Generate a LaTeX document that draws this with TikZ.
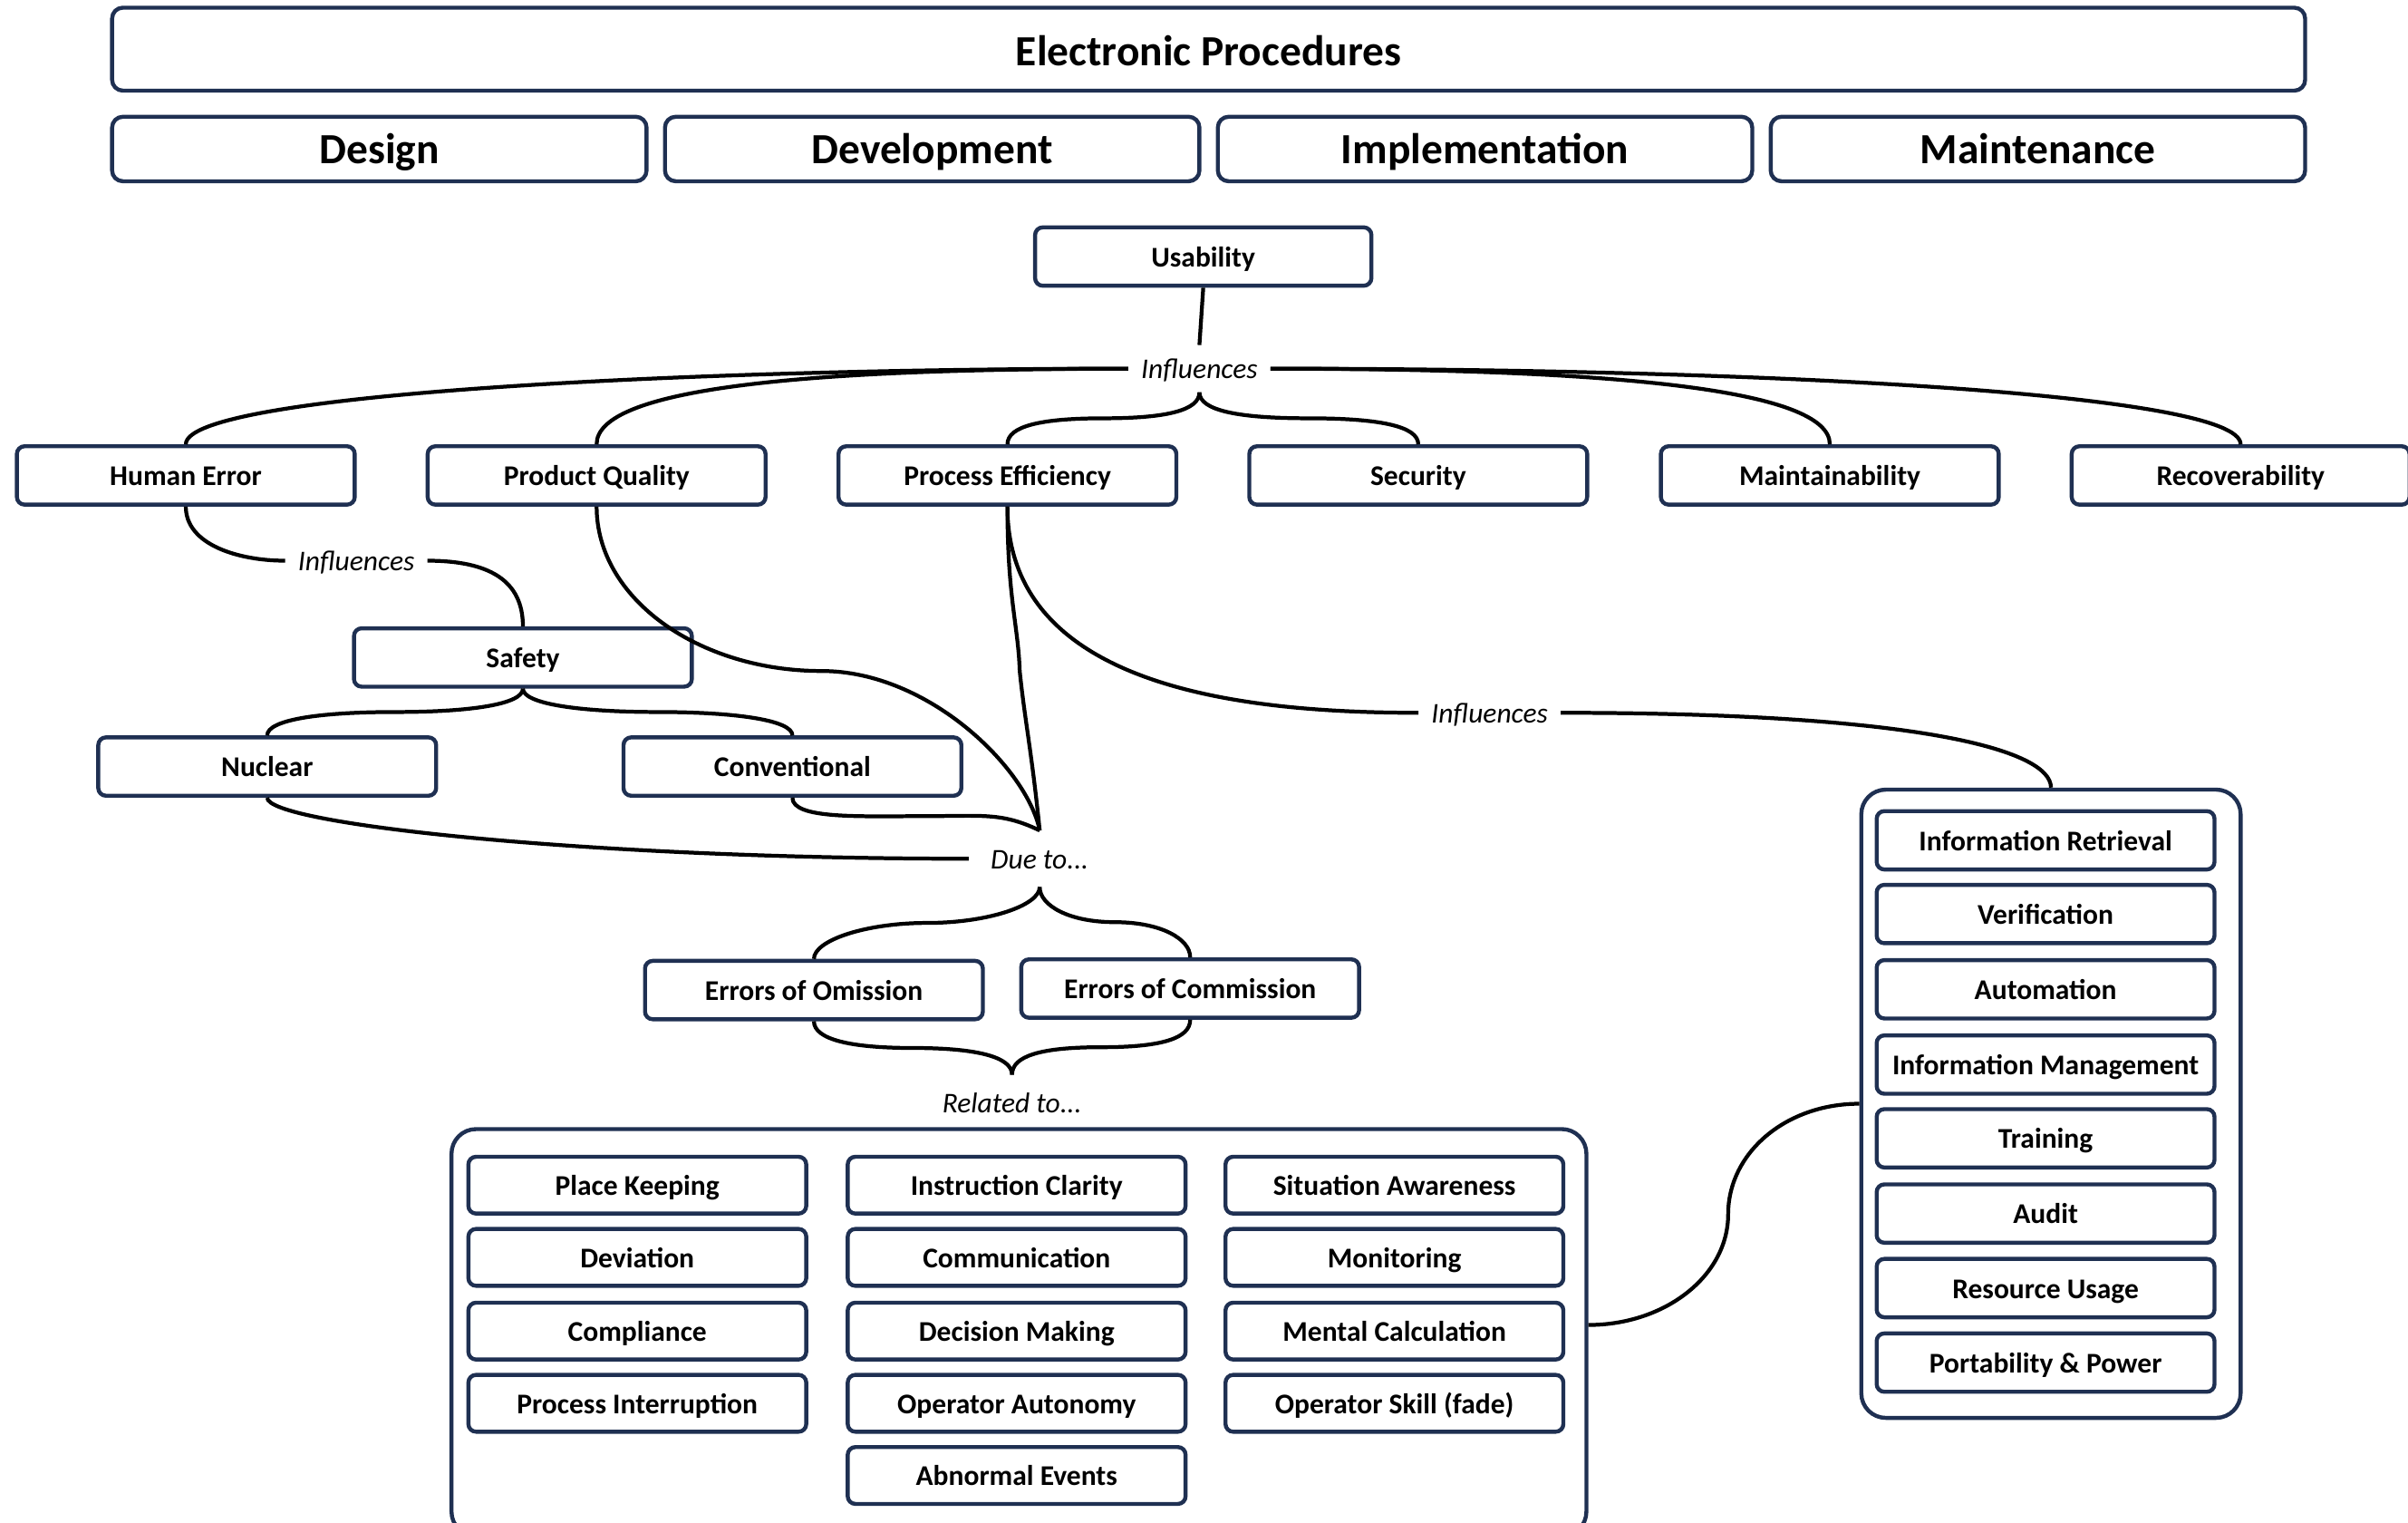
\documentclass[tikz,border=0pt]{standalone}
\usepackage{fontspec}
\setmainfont{Carlito}
\usetikzlibrary{calc}
\definecolor{navy}{RGB}{31,48,82}
\begin{document}
\begin{tikzpicture}[x=0.5pt,y=-0.5pt,
  box/.style={draw=navy, line width=1.3pt, rounded corners=2.5pt, fill=white, inner sep=0pt,
    font=\bfseries\fontsize{9.3}{11}\selectfont, text height=8.2pt, text depth=1.6pt,
    minimum width=110pt, minimum height=19pt},
  ibox/.style={box, minimum height=18.5pt},
  hbox/.style={box, font=\bfseries\fontsize{14}{16}\selectfont, text height=11.5pt, text depth=2pt,
    minimum height=21pt, minimum width=174pt, rounded corners=3.5pt},
  cont/.style={draw=navy, line width=1.3pt, rounded corners=8pt, inner sep=0pt},
  lab/.style={font=\itshape\fontsize{9.3}{11}\selectfont, inner xsep=4pt, inner ysep=0pt,
    text height=8.2pt, text depth=1.6pt, minimum height=15pt},
  conn/.style={line width=1.25pt, black}]

\path[use as bounding box, fill=white] (0,0) rectangle (1568,991);

% header
\node[hbox, minimum width=714pt, minimum height=27pt, text height=13pt] (ep) at (787,32) {Electronic Procedures};
\node[hbox] (design) at (247,97) {Design};
\node[hbox] (devel) at (607,97) {Development};
\node[hbox] (impl) at (967,97) {Implementation};
\node[hbox] (mtn) at (1327,97) {Maintenance};

% usability
\node[box, minimum width=109.5pt] (us) at (783.5,167) {Usability};
\node[lab] (inf1) at (781,240) {Influences};

% row of qualities
\node[box] (he) at (121,309.5) {Human Error};
\node[box] (pq) at (388.5,309.5) {Product Quality};
\node[box] (pe) at (656,309.5) {Process Efficiency};
\node[box] (sec) at (923.5,309.5) {Security};
\node[box] (maint) at (1191.5,309.5) {Maintainability};
\node[box] (rec) at (1459,309.5) {Recoverability};

% safety branch
\node[lab] (inf2) at (232,365) {Influences};
\node[box] (saf) at (340.5,428) {Safety};
\node[box] (nuc) at (174,499) {Nuclear};
\node[box] (conv) at (516,499) {Conventional};

\node[lab, minimum height=18pt] (due) at (677,559) {Due to...};
\node[box] (eoo) at (530,644.5) {Errors of Omission};
\node[box] (eoc) at (775,643.5) {Errors of Commission};
\node[lab, minimum height=18pt] (rel) at (659,718) {Related to...};

\node[lab] (inf3) at (970,464) {Influences};

% containers
\node[cont, minimum width=369.5pt, minimum height=132.5pt] (c1) at (663.5,867.5) {};
\node[cont, minimum width=123.5pt, minimum height=204.5pt] (c2) at (1335.5,718.5) {};

% container 1 items
\node[ibox] (pk) at (415,771.5) {Place Keeping};
\node[ibox] (dev) at (415,818.5) {Deviation};
\node[ibox] (comp) at (415,866.5) {Compliance};
\node[ibox] (pint) at (415,913.5) {Process Interruption};
\node[ibox] (ic) at (662,771.5) {Instruction Clarity};
\node[ibox] (com) at (662,818.5) {Communication};
\node[ibox] (dm) at (662,866.5) {Decision Making};
\node[ibox] (oa) at (662,913.5) {Operator Autonomy};
\node[ibox] (ae) at (662,960.5) {Abnormal Events};
\node[ibox] (sa) at (908,771.5) {Situation Awareness};
\node[ibox] (mon) at (908,818.5) {Monitoring};
\node[ibox] (mc) at (908,866.5) {Mental Calculation};
\node[ibox] (os) at (908,913.5) {Operator Skill (fade)};

% container 2 items
\node[box] (ir) at (1332,547) {Information Retrieval};
\node[box] (ver) at (1332,595) {Verification};
\node[box] (aut) at (1332,644) {Automation};
\node[box] (im) at (1332,693) {Information Management};
\node[box] (tr) at (1332,741) {Training};
\node[box] (aud) at (1332,790) {Audit};
\node[box] (ru) at (1332,838.5) {Resource Usage};
\node[box] (pp) at (1332,887) {Portability \& Power};

% connectors: top
\draw[conn] (us.south) -- (inf1.north);
\draw[conn] (inf1.west) .. controls +(-285,0) and +(0,-33) .. (he.north);
\draw[conn] (inf1.west) .. controls +(-215,0) and +(0,-36) .. (pq.north);
\draw[conn] (inf1.east) .. controls +(222,0) and +(0,-36) .. (maint.north);
\draw[conn] (inf1.east) .. controls +(322,0) and +(0,-33) .. (rec.north);
\draw[conn] (inf1.south) .. controls +(0,12) and +(40,0) .. ($(inf1.south)!.5!(pe.north)$)
  .. controls +(-40,0) and +(0,-12) .. (pe.north);
\draw[conn] (inf1.south) .. controls +(0,12) and +(-45,0) .. ($(inf1.south)!.5!(sec.north)$)
  .. controls +(45,0) and +(0,-12) .. (sec.north);

% human error -> safety
\draw[conn] (he.south) .. controls +(0,25) and +(-30,0) .. (inf2.west);
\draw[conn] (inf2.east) .. controls +(40,0) and +(0,-30) .. (saf.north);
\draw[conn] (saf.south) .. controls +(0,10) and +(50,0) .. ($(saf.south)!.5!(nuc.north)$)
  .. controls +(-50,0) and +(0,-10) .. (nuc.north);
\draw[conn] (saf.south) .. controls +(0,10) and +(-50,0) .. ($(saf.south)!.5!(conv.north)$)
  .. controls +(50,0) and +(0,-10) .. (conv.north);

% into Due to
\draw[conn] (nuc.south) .. controls +(0,17) and +(-250,0) .. ([xshift=-3pt]due.west);
\draw[conn] (conv.south) .. controls +(0,14) and +(-40,0) .. ($(conv.south)+(84,12)$)
  .. controls +(40,0) and +(-25,-12) .. (due.north);
\draw[conn] (pq.south) .. controls +(0,60) and +(-80,0) .. ($(pq.south)+(146.5,107)$)
  .. controls +(70,0) and +(-8,-40) .. (due.north);
\draw[conn] (pe.south) .. controls +(0,60) and +(-1,-30) .. ($(pe.south)+(8,107)$)
  .. controls +(3,30) and +(-5,-50) .. (due.north);

% process efficiency -> influences -> container 2
\draw[conn] (pe.south) .. controls +(0,117) and +(-117,0) .. (inf3.west);
\draw[conn] (inf3.east) .. controls +(230,0) and +(0,-25) .. (c2.north);

% due to -> errors
\draw[conn] (due.south) .. controls +(0,12) and +(40,0) .. ($(due.south)!.5!(eoo.north)$)
  .. controls +(-40,0) and +(0,-12) .. (eoo.north);
\draw[conn] (due.south) .. controls +(0,12) and +(-30,0) .. ($(due.south)!.5!(eoc.north)$)
  .. controls +(30,0) and +(0,-12) .. (eoc.north);

% errors -> related to
\draw[conn] (eoo.south) .. controls +(0,12) and +(-40,0) .. ($(eoo.south)!.5!(rel.north)$)
  .. controls +(40,0) and +(0,-12) .. (rel.north);
\draw[conn] (eoc.south) .. controls +(0,12) and +(40,0) .. ($(eoc.south)!.5!(rel.north)$)
  .. controls +(-40,0) and +(0,-12) .. (rel.north);

% container link
\draw[conn] ([yshift=2.5pt]c1.east) .. controls +(50,0) and +(0,40) .. ($([yshift=2.5pt]c1.east)+(91,-72)$)
  .. controls +(0,-40) and +(-48,0) .. (c2.west);

\end{tikzpicture}
\end{document}
